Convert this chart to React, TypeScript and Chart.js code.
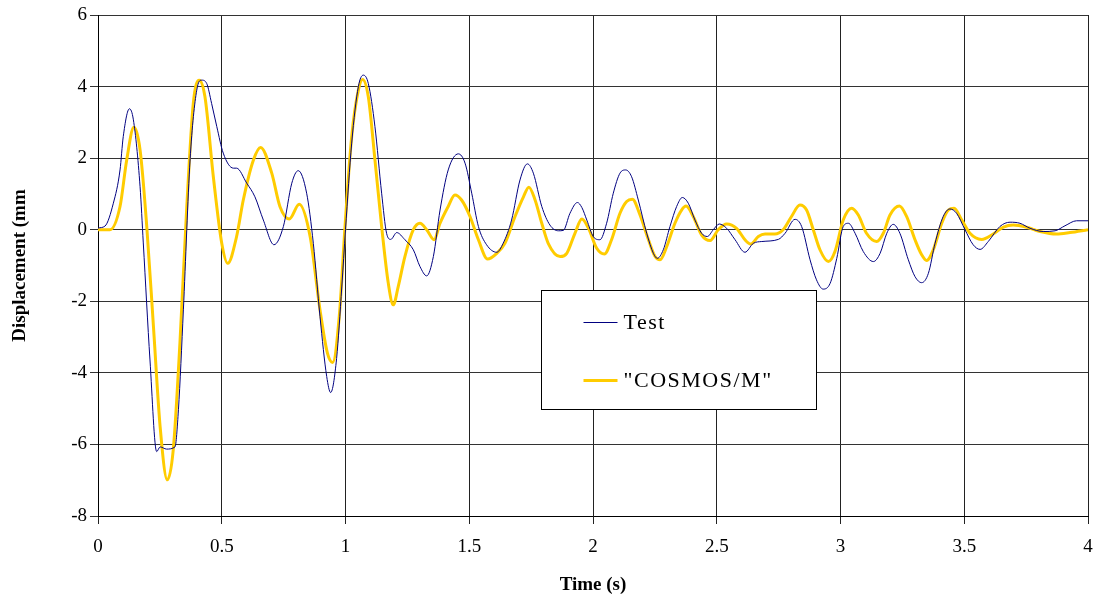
import React, { useEffect, useRef } from "react";
import { Chart, registerables } from "chart.js";

Chart.register(...registerables);

// ---- Data ----
const testTime = [
  0, 0.028, 0.062, 0.089, 0.102, 0.127, 0.143, 0.17, 0.183, 0.21, 0.237, 0.251, 0.277, 0.311, 0.325, 0.345,
  0.372, 0.399, 0.419, 0.439, 0.459, 0.48, 0.506, 0.547, 0.56, 0.601, 0.634, 0.668, 0.711, 0.749, 0.783, 0.809,
  0.843, 0.87, 0.897, 0.924, 0.94, 0.964, 0.985, 1.0, 1.025, 1.052, 1.072, 1.092, 1.119, 1.146, 1.166, 1.183,
  1.207, 1.24, 1.274, 1.301, 1.328, 1.355, 1.382, 1.415, 1.456, 1.483, 1.51, 1.537, 1.57, 1.611, 1.637, 1.671,
  1.705, 1.735, 1.759, 1.793, 1.826, 1.86, 1.88, 1.907, 1.937, 1.955, 1.975, 2.001, 2.028, 2.055, 2.082, 2.109,
  2.132, 2.156, 2.183, 2.217, 2.244, 2.26, 2.284, 2.311, 2.338, 2.361, 2.385, 2.412, 2.439, 2.462, 2.486, 2.51,
  2.54, 2.574, 2.614, 2.648, 2.682, 2.749, 2.776, 2.816, 2.843, 2.877, 2.903, 2.93, 2.958, 2.985, 3.011, 3.032,
  3.059, 3.092, 3.133, 3.16, 3.187, 3.213, 3.24, 3.274, 3.301, 3.328, 3.355, 3.382, 3.415, 3.442, 3.469, 3.503,
  3.536, 3.564, 3.597, 3.644, 3.685, 3.725, 3.766, 3.819, 3.867, 3.907, 3.954, 4.0,
];
const testDisp = [
  0.05, 0.1, 0.74, 1.67, 2.6, 3.38, 3.07, 1.2, -0.37, -3.64, -6.2, -6.07, -6.13, -6.07, -5.03, -2.24,
  1.95, 3.9, 4.18, 4.09, 3.53, 2.88, 2.14, 1.72, 1.72, 1.3, 0.92, 0.27, -0.42, 0.09, 1.3, 1.65,
  1.02, -0.38, -2.43, -4.1, -4.55, -3.6, -1.6, 0.0, 2.42, 4.0, 4.32, 4.09, 2.88, 1.02, -0.1, -0.27,
  -0.08, -0.28, -0.56, -1.03, -1.29, -0.75, 0.55, 1.67, 2.12, 1.86, 1.02, 0.09, -0.42, -0.63, -0.38, 0.27,
  1.39, 1.84, 1.58, 0.65, 0.13, -0.03, -0.02, 0.46, 0.76, 0.62, 0.27, -0.19, -0.28, 0.18, 1.02, 1.58,
  1.67, 1.48, 0.83, -0.1, -0.66, -0.8, -0.56, 0.09, 0.65, 0.9, 0.74, 0.27, -0.1, -0.19, 0.0, 0.16,
  0.04, -0.28, -0.63, -0.38, -0.33, -0.27, -0.1, 0.29, 0.09, -0.84, -1.4, -1.66, -1.5, -0.8, 0.09, 0.18,
  -0.1, -0.61, -0.89, -0.66, -0.1, 0.15, -0.1, -0.84, -1.31, -1.48, -1.22, -0.38, 0.37, 0.58, 0.46, 0.0,
  -0.42, -0.55, -0.33, 0.09, 0.21, 0.18, 0.04, -0.05, -0.03, 0.11, 0.25, 0.25,
];

const cosmosTime = [
  0, 0.048, 0.089, 0.116, 0.145, 0.17, 0.197, 0.224, 0.251, 0.28, 0.304, 0.331, 0.358, 0.385, 0.409, 0.432,
  0.466, 0.5, 0.524, 0.56, 0.587, 0.628, 0.657, 0.702, 0.735, 0.773, 0.813, 0.857, 0.897, 0.927, 0.948, 0.975,
  0.998, 1.025, 1.052, 1.069, 1.092, 1.119, 1.146, 1.173, 1.193, 1.213, 1.24, 1.274, 1.301, 1.328, 1.358, 1.382,
  1.415, 1.442, 1.469, 1.503, 1.537, 1.574, 1.611, 1.644, 1.685, 1.719, 1.741, 1.766, 1.793, 1.819, 1.867, 1.894,
  1.927, 1.955, 1.981, 2.015, 2.046, 2.075, 2.109, 2.136, 2.159, 2.19, 2.224, 2.251, 2.271, 2.298, 2.331, 2.358,
  2.376, 2.405, 2.439, 2.473, 2.506, 2.54, 2.58, 2.614, 2.637, 2.668, 2.695, 2.735, 2.768, 2.802, 2.836, 2.863,
  2.89, 2.917, 2.951, 2.978, 3.011, 3.045, 3.072, 3.105, 3.146, 3.173, 3.2, 3.238, 3.267, 3.301, 3.328, 3.348,
  3.375, 3.409, 3.436, 3.459, 3.49, 3.523, 3.57, 3.617, 3.658, 3.698, 3.752, 3.806, 3.873, 3.927, 4.0,
];
const cosmosDisp = [
  0, 0, 0.65, 1.95, 2.86, 2.23, 0.09, -2.7, -5.5, -6.99, -6.15, -3.17, 0.55, 3.53, 4.18, 3.72,
  1.48, -0.38, -0.94, -0.19, 0.83, 1.95, 2.3, 1.58, 0.65, 0.3, 0.71, -0.19, -2.24, -3.45, -3.71, -2.4,
  0.09, 2.6, 3.9, 4.2, 3.72, 1.95, 0.09, -1.5, -2.1, -1.59, -0.75, 0.0, 0.18, 0.0, -0.28, 0.18,
  0.65, 0.97, 0.83, 0.37, -0.28, -0.82, -0.66, -0.38, 0.37, 0.92, 1.19, 0.83, 0.18, -0.38, -0.75, -0.66,
  -0.1, 0.3, 0.05, -0.52, -0.68, -0.28, 0.46, 0.79, 0.85, 0.41, -0.28, -0.75, -0.84, -0.47, 0.18, 0.55,
  0.66, 0.37, -0.15, -0.3, 0.0, 0.16, 0.04, -0.28, -0.4, -0.19, -0.12, -0.12, 0.0, 0.37, 0.69, 0.55,
  0.0, -0.56, -0.89, -0.6, 0.27, 0.6, 0.41, -0.1, -0.33, -0.1, 0.41, 0.66, 0.37, -0.28, -0.7, -0.86,
  -0.56, 0.18, 0.55, 0.6, 0.27, -0.1, -0.27, -0.12, 0.07, 0.13, 0.07, -0.05, -0.12, -0.08, 0.0,
];

const seriesNames = ["Test", "\"COSMOS/M\""];
const seriesColors = ["#000080", "#FFCC00"];
const seriesWidths = [1, 3];
const xTitle = "Time (s)";
const yTitle = "Displacement (mm";

const FONT = "'Liberation Serif', 'Times New Roman', serif";

const boxLegend = {
  id: "boxLegend",
  afterDatasetsDraw(chart: any) {
    const { ctx, chartArea } = chart;
    const w = chartArea.right - chartArea.left;
    const h = chartArea.bottom - chartArea.top;
    const bx = Math.round(chartArea.left + w * 0.4475) + 0.5;
    const by = Math.round(chartArea.top + h * 0.5489) + 0.5;
    const bw = Math.round(w * 0.2778);
    const bh = Math.round(h * 0.2375);
    ctx.save();
    ctx.fillStyle = "#ffffff";
    ctx.fillRect(bx, by, bw, bh);
    ctx.strokeStyle = "#000000";
    ctx.lineWidth = 1;
    ctx.strokeRect(bx, by, bw, bh);
    const rows = [32, 90];
    seriesNames.forEach((name, i) => {
      const y = by + rows[i];
      ctx.strokeStyle = seriesColors[i];
      ctx.lineWidth = seriesWidths[i];
      ctx.beginPath();
      ctx.moveTo(bx + 42, y);
      ctx.lineTo(bx + 76, y);
      ctx.stroke();
      ctx.fillStyle = "#000000";
      ctx.font = `22px ${FONT}`;
      (ctx as any).letterSpacing = "1.5px";
      ctx.textBaseline = "middle";
      ctx.textAlign = "left";
      ctx.fillText(name, bx + 82, y + 1);
    });
    ctx.restore();
  },
};

export default function App() {
  const ref = useRef<HTMLCanvasElement>(null);
  useEffect(() => {
    if (!ref.current) return;
    const mk = (ts: number[], vs: number[]) => ts.map((t, i) => ({ x: t, y: vs[i] }));
    const chart = new Chart(ref.current, {
      type: "line",
      data: {
        datasets: [
          {
            label: seriesNames[0],
            data: mk(testTime, testDisp),
            borderColor: seriesColors[0],
            borderWidth: seriesWidths[0],
            pointRadius: 0,
            cubicInterpolationMode: "monotone",
            fill: false,
          },
          {
            label: seriesNames[1],
            data: mk(cosmosTime, cosmosDisp),
            borderColor: seriesColors[1],
            borderWidth: seriesWidths[1],
            pointRadius: 0,
            cubicInterpolationMode: "monotone",
            fill: false,
          },
        ],
      },
      options: {
        responsive: false,
        animation: false,
        layout: { padding: { top: 15, right: 7, left: 0, bottom: 0 } },
        plugins: { legend: { display: false }, tooltip: { enabled: false } },
        scales: {
          x: {
            type: "linear",
            min: 0,
            max: 4,
            ticks: {
              stepSize: 0.5,
              color: "#000",
              font: { family: FONT, size: 19 },
              padding: 12,
              maxRotation: 0,
              callback: (v: any) => String(Number(v)),
            },
            grid: { color: "#222", lineWidth: 1, tickLength: 8 },
            border: { color: "#000" },
            title: { display: true, text: xTitle, color: "#000", font: { family: FONT, size: 19, weight: "bold" }, padding: { top: 0, bottom: 1 } },
            afterFit: (s: any) => {
              s.height = 81;
              s.paddingRight = 0;
              s.paddingLeft = 0;
            },
          },
          y: {
            min: -8,
            max: 6,
            ticks: { stepSize: 2, color: "#000", font: { family: FONT, size: 19 }, padding: 3 },
            grid: { color: "#333", lineWidth: 1, tickLength: 8 },
            border: { color: "#000" },
            title: { display: true, text: yTitle, color: "#000", font: { family: FONT, size: 19, weight: "bold" }, padding: { top: 9, bottom: 0 } },
            afterFit: (s: any) => {
              s.width = 98;
              s.paddingTop = 0;
              s.paddingBottom = 0;
            },
          },
        },
      },
      plugins: [boxLegend],
    });
    return () => chart.destroy();
  }, []);
  return (
    <div style={{ position: "fixed", left: 0, top: 0, width: 1095, height: 597, background: "#fff" }}>
      <canvas ref={ref} width={1095} height={597} />
    </div>
  );
}
